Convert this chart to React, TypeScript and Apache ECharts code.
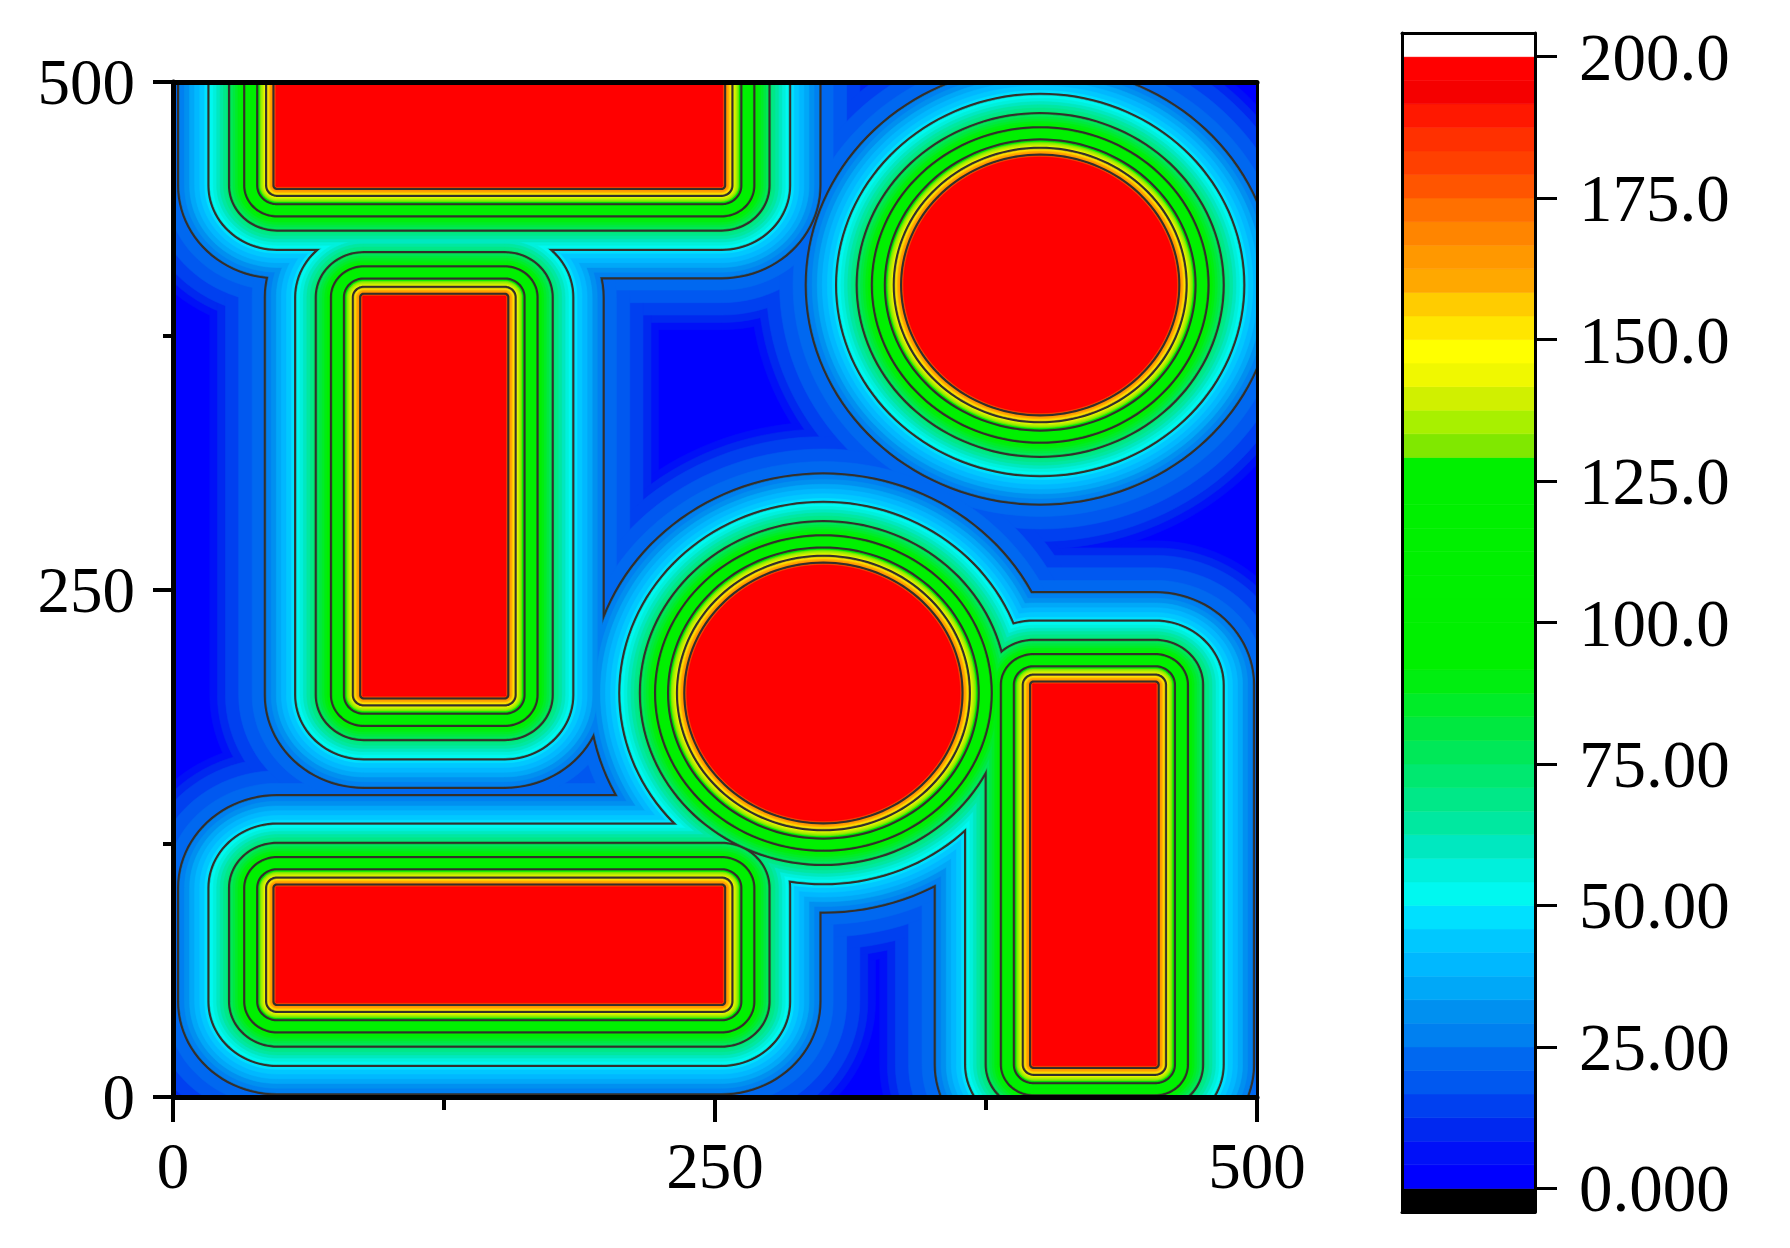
import React, { useEffect, useRef } from "react";
import * as echarts from "echarts";

// ---- Heat sources (value 200 inside), data units ----
const RECT_X0 = [48, 48, 88, 397];
const RECT_X1 = [253, 253, 153, 453];
const RECT_Y0 = [449, 47, 198, 16];
const RECT_Y1 = [520, 103, 394, 203];
const CIRCLE_CX = [400, 300];
const CIRCLE_CY = [400, 199];
const CIRCLE_R = [62.5, 62.5];

// ---- Field value versus distance from the nearest source edge ----
const PROFILE_DIST = [0, 1, 4.4, 8.5, 14.5, 21.5, 31, 45, 51.5, 57.7, 63.8, 67.5, 71];
const PROFILE_VALUE = [200, 175, 150, 125, 100, 75, 50, 25, 20.83, 16.67, 12.5, 8.33, 4.17];

// ---- Colour levels (48 bands, 0..200) ----
const LEVEL_LOW = [
  0, 4.1667, 8.3333, 12.5, 16.6667, 20.8333, 25, 29.1667, 33.3333, 37.5, 41.6667, 45.8333,
  50, 54.1667, 58.3333, 62.5, 66.6667, 70.8333, 75, 79.1667, 83.3333, 87.5, 91.6667, 95.8333,
  100, 104.1667, 108.3333, 112.5, 116.6667, 120.8333, 125, 129.1667, 133.3333, 137.5, 141.6667, 145.8333,
  150, 154.1667, 158.3333, 162.5, 166.6667, 170.8333, 175, 179.1667, 183.3333, 187.5, 191.6667, 195.8333,
];
const BAND_COLORS = [
  "#0000FF", "#0010F8", "#0028F0", "#0040F0", "#0058F0", "#0068F0", "#0080F0", "#0090F0",
  "#00A8F8", "#00B8FF", "#00C8FF", "#00E0FF", "#00F8F0", "#00F0DC", "#00E8C0", "#00E8A0",
  "#00E888", "#00E870", "#00E858", "#00E840", "#00EC28", "#00EE10", "#00F000", "#00F000",
  "#00F000", "#00F000", "#00F000", "#00F000", "#00F000", "#00F000", "#00F000", "#80E800",
  "#A8F000", "#D0F000", "#F0F800", "#FFFF00", "#FFE600", "#FFCC00", "#FFA800", "#FF9800",
  "#FF8500", "#FF7000", "#FF5500", "#FF4000", "#FF3000", "#FF1800", "#F50000", "#FF0000",
];
const CONTOUR_LEVELS = [25, 50, 75, 100, 125, 150, 175];

// ---- Axes ----
const AXIS_MIN = 0;
const AXIS_MAX = 500;
const AXIS_LABELS = ["0", "250", "500"];
const AXIS_LABEL_VALUES = [0, 250, 500];
const COLORBAR_MIN = -4.1667;
const COLORBAR_MAX = 204.1667;
const COLORBAR_TICKS = [0, 25, 50, 75, 100, 125, 150, 175, 200];
const COLORBAR_LABELS = ["0.000", "25.00", "50.00", "75.00", "100.0", "125.0", "150.0", "175.0", "200.0"];
const BELOW_COLOR = "#000000";
const ABOVE_COLOR = "#FFFFFF";

const FONT = "'Liberation Serif', 'Times New Roman', serif";
const LINE_COLOR = "#332f2b";

function distanceFor(v: number): number {
  if (v >= PROFILE_VALUE[0]) return 0;
  for (let i = 0; i < PROFILE_VALUE.length - 1; i++) {
    const a = PROFILE_VALUE[i];
    const b = PROFILE_VALUE[i + 1];
    if (v <= a && v >= b) {
      const f = (a - v) / (a - b);
      return PROFILE_DIST[i] + f * (PROFILE_DIST[i + 1] - PROFILE_DIST[i]);
    }
  }
  return PROFILE_DIST[PROFILE_DIST.length - 1];
}

function rectOffset(x0: number, x1: number, y0: number, y1: number, t: number): number[][] {
  if (t <= 0.001) return [[x0, y0], [x1, y0], [x1, y1], [x0, y1]];
  const pts: number[][] = [];
  const N = 24;
  const corners = [
    [x1, y0, -90, 0],
    [x1, y1, 0, 90],
    [x0, y1, 90, 180],
    [x0, y0, 180, 270],
  ];
  for (const [cx, cy, a0, a1] of corners) {
    for (let i = 0; i <= N; i++) {
      const a = ((a0 + ((a1 - a0) * i) / N) * Math.PI) / 180;
      pts.push([cx + t * Math.cos(a), cy + t * Math.sin(a)]);
    }
  }
  return pts;
}

function circleOffset(cx: number, cy: number, r: number): number[][] {
  const pts: number[][] = [];
  const N = 144;
  for (let i = 0; i < N; i++) {
    const a = (i / N) * Math.PI * 2;
    pts.push([cx + r * Math.cos(a), cy + r * Math.sin(a)]);
  }
  return pts;
}

function shapePolygons(t: number): number[][][] {
  const out: number[][][] = [];
  for (let i = 0; i < RECT_X0.length; i++) out.push(rectOffset(RECT_X0[i], RECT_X1[i], RECT_Y0[i], RECT_Y1[i], t));
  for (let i = 0; i < CIRCLE_CX.length; i++) out.push(circleOffset(CIRCLE_CX[i], CIRCLE_CY[i], CIRCLE_R[i] + t));
  return out;
}

export default function App() {
  const ref = useRef<HTMLDivElement>(null);
  useEffect(() => {
    if (!ref.current) return;
    const chart = echarts.init(ref.current, null, { renderer: "svg" });

    const fieldData = LEVEL_LOW.map((v, k) => [v, k]).filter((d) => d[1] > 0);
    const cbData: number[][] = [[COLORBAR_MIN, 0, -1]];
    LEVEL_LOW.forEach((v, k) => cbData.push([v, k + 1 < LEVEL_LOW.length ? LEVEL_LOW[k + 1] : 200, k]));
    cbData.push([200, COLORBAR_MAX, -2]);

    const labelStyle = { fontFamily: FONT, fontSize: 65, color: "#000" };

    const option: any = {
      animation: false,
      backgroundColor: "#ffffff",
      grid: [
        {
          left: 173, top: 82, width: 1084, height: 1015,
          show: true, backgroundColor: BAND_COLORS[0], borderWidth: 0,
          outerBoundsMode: "none",
        },
        { left: 1402, top: 33, width: 133, height: 1179, show: false, outerBoundsMode: "none" },
      ],
      xAxis: [
        {
          gridIndex: 0, type: "value", min: AXIS_MIN, max: AXIS_MAX, interval: 250, position: "bottom", z: 10,
          axisLine: { show: true, onZero: false, lineStyle: { color: "#000", width: 5 } },
          axisTick: { show: true, length: 25, lineStyle: { color: "#000", width: 4 } },
          minorTick: { show: true, splitNumber: 2, length: 13, lineStyle: { color: "#000", width: 4 } },
          splitLine: { show: false },
          axisLabel: {
            ...labelStyle, margin: 36,
            formatter: (v: number) => { const i = AXIS_LABEL_VALUES.indexOf(v); return i >= 0 ? AXIS_LABELS[i] : ""; },
          },
        },
        {
          gridIndex: 0, type: "value", min: AXIS_MIN, max: AXIS_MAX, position: "top", z: 10,
          axisLine: { show: true, onZero: false, lineStyle: { color: "#000", width: 5 } },
          axisTick: { show: false }, axisLabel: { show: false }, splitLine: { show: false },
        },
        {
          gridIndex: 1, type: "value", min: 0, max: 1, position: "bottom", z: 10,
          axisLine: { show: true, onZero: false, lineStyle: { color: "#000", width: 3 } },
          axisTick: { show: false }, axisLabel: { show: false }, splitLine: { show: false },
        },
        {
          gridIndex: 1, type: "value", min: 0, max: 1, position: "top", z: 10,
          axisLine: { show: true, onZero: false, lineStyle: { color: "#000", width: 3 } },
          axisTick: { show: false }, axisLabel: { show: false }, splitLine: { show: false },
        },
      ],
      yAxis: [
        {
          gridIndex: 0, type: "value", min: AXIS_MIN, max: AXIS_MAX, interval: 250, position: "left", z: 10,
          axisLine: { show: true, onZero: false, lineStyle: { color: "#000", width: 5 } },
          axisTick: { show: true, length: 20, lineStyle: { color: "#000", width: 4 } },
          minorTick: { show: true, splitNumber: 2, length: 10, lineStyle: { color: "#000", width: 4 } },
          splitLine: { show: false },
          axisLabel: {
            ...labelStyle, margin: 38,
            formatter: (v: number) => { const i = AXIS_LABEL_VALUES.indexOf(v); return i >= 0 ? AXIS_LABELS[i] : ""; },
          },
        },
        {
          gridIndex: 0, type: "value", min: AXIS_MIN, max: AXIS_MAX, position: "right", z: 10,
          axisLine: { show: true, onZero: false, lineStyle: { color: "#000", width: 3 } },
          axisTick: { show: false }, axisLabel: { show: false }, splitLine: { show: false },
        },
        {
          gridIndex: 1, type: "value", min: COLORBAR_MIN, max: COLORBAR_MAX, position: "right", z: 10,
          axisLine: { show: true, onZero: false, lineStyle: { color: "#000", width: 3 } },
          axisTick: { show: true, customValues: COLORBAR_TICKS, length: 22, lineStyle: { color: "#000", width: 3 } },
          splitLine: { show: false },
          axisLabel: {
            ...labelStyle, fontSize: 67, margin: 44, customValues: COLORBAR_TICKS,
            formatter: (v: number) => {
              const i = COLORBAR_TICKS.findIndex((t) => Math.abs(t - v) < 1e-6);
              return i >= 0 ? COLORBAR_LABELS[i] : "";
            },
          },
        },
        {
          gridIndex: 1, type: "value", min: COLORBAR_MIN, max: COLORBAR_MAX, position: "left", z: 10,
          axisLine: { show: true, onZero: false, lineStyle: { color: "#000", width: 3 } },
          axisTick: { show: false }, axisLabel: { show: false }, splitLine: { show: false },
        },
      ],
      series: [
        {
          type: "custom",
          xAxisIndex: 0,
          yAxisIndex: 0,
          clip: true,
          silent: true,
          data: fieldData,
          renderItem: (params: any, api: any) => {
            const v = api.value(0);
            const k = api.value(1);
            const d = distanceFor(v);
            const polys = shapePolygons(d).map((poly) => poly.map((p) => api.coord(p)));
            const isContour = CONTOUR_LEVELS.some((c) => Math.abs(c - v) < 0.01);
            const children: any[] = [];
            if (isContour) {
              polys.forEach((pts) =>
                children.push({
                  type: "polygon", z2: k * 2, shape: { points: pts },
                  style: { fill: "none", stroke: LINE_COLOR, lineWidth: 5 },
                })
              );
            }
            polys.forEach((pts) =>
              children.push({
                type: "polygon", z2: k * 2 + 1, shape: { points: pts },
                style: { fill: BAND_COLORS[k], stroke: BAND_COLORS[k], lineWidth: 0.6 },
              })
            );
            return { type: "group", children };
          },
        },
        {
          type: "custom",
          xAxisIndex: 2,
          yAxisIndex: 2,
          silent: true,
          data: cbData,
          renderItem: (params: any, api: any) => {
            const lo = api.value(0);
            const hi = api.value(1);
            const k = api.value(2);
            const color = k === -1 ? BELOW_COLOR : k === -2 ? ABOVE_COLOR : BAND_COLORS[k];
            const p0 = api.coord([0, lo]);
            const p1 = api.coord([1, hi]);
            return {
              type: "rect",
              shape: { x: p0[0], y: p1[1], width: p1[0] - p0[0], height: p0[1] - p1[1] },
              style: { fill: color, stroke: color, lineWidth: 0.6 },
            };
          },
        },
      ],
    };
    chart.setOption(option);
    return () => chart.dispose();
  }, []);
  return (
    <div
      ref={ref}
      style={{ position: "absolute", left: 0, top: 0, width: 1790, height: 1248, background: "#fff" }}
    />
  );
}
